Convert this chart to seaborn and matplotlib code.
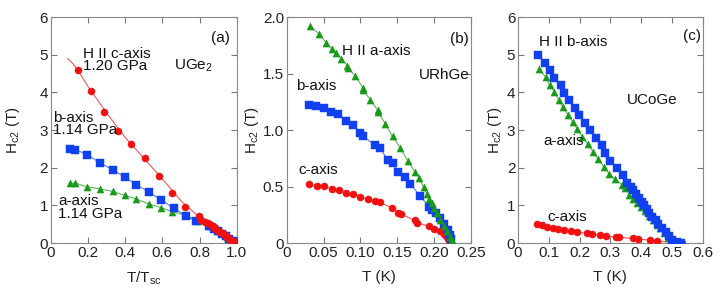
import numpy as np
import pandas as pd
import matplotlib
matplotlib.use("Agg")
import matplotlib.pyplot as plt
import seaborn as sns

# ---- (a) UGe2, H vs T/Tsc ----
a_c_x = [0.145, 0.213, 0.287, 0.36, 0.432, 0.504, 0.579, 0.651, 0.722, 0.796, 0.806,
         0.83, 0.845, 0.86, 0.87, 0.88, 0.89, 0.90, 0.91, 0.92, 0.93, 0.94, 0.95,
         0.96, 0.97, 0.98, 0.99, 1.0]
a_c_y = [4.6, 4.03, 3.49, 2.97, 2.64, 2.27, 1.79, 1.34, 0.97, 0.71, 0.62,
         0.55, 0.52, 0.47, 0.44, 0.40, 0.37, 0.33, 0.30, 0.26, 0.23, 0.19, 0.16,
         0.12, 0.09, 0.06, 0.03, 0.0]
a_fit_x = [0.09, 0.12, 0.15, 0.2, 0.3, 0.4, 0.5, 0.6, 0.7, 0.8, 0.9, 1.0]
a_fit_y = [4.9, 4.75, 4.55, 4.15, 3.45, 2.8, 2.25, 1.7, 1.12, 0.68, 0.33, 0.0]
a_b_x = [0.105, 0.131, 0.195, 0.263, 0.332, 0.396, 0.46, 0.527, 0.593, 0.661, 0.726,
         0.783, 0.85, 0.88, 0.9, 0.92, 0.94, 0.96, 0.98, 1.0]
a_b_y = [2.5, 2.48, 2.35, 2.13, 1.95, 1.75, 1.55, 1.35, 1.15, 0.92, 0.73,
         0.58, 0.45, 0.38, 0.32, 0.25, 0.19, 0.12, 0.06, 0.02]
a_a_x = [0.104, 0.131, 0.195, 0.263, 0.332, 0.396, 0.46, 0.525, 0.593, 0.654, 0.726,
         0.79, 0.85, 0.9, 0.95, 1.0]
a_a_y = [1.59, 1.59, 1.49, 1.44, 1.37, 1.27, 1.17, 1.04, 0.94, 0.83, 0.74,
         0.58, 0.45, 0.31, 0.15, 0.02]

# ---- (b) URhGe, H vs T (K) ----
b_a_x = [0.0317, 0.0435, 0.0539, 0.062, 0.067, 0.0742, 0.0824, 0.0833, 0.0932, 0.1032,
         0.1037, 0.1136, 0.1236, 0.124, 0.1336, 0.1435, 0.154, 0.1644, 0.1739, 0.1793,
         0.1856, 0.190, 0.1933, 0.1965, 0.2001, 0.2038, 0.2083, 0.2128, 0.2174, 0.2219,
         0.2242]
b_a_y = [1.919, 1.854, 1.769, 1.714, 1.681, 1.631, 1.57, 1.55, 1.479, 1.374,
         1.356, 1.265, 1.174, 1.157, 1.057, 0.943, 0.843, 0.726, 0.629, 0.579,
         0.494, 0.433, 0.394, 0.353, 0.312, 0.265, 0.207, 0.154, 0.104, 0.054,
         0.025]
b_b_x = [0.0299, 0.0402, 0.0507, 0.0607, 0.0702, 0.081, 0.0901, 0.0996, 0.1041, 0.1204,
         0.1263, 0.1372, 0.1435, 0.1503, 0.1607, 0.1675, 0.1807, 0.1933, 0.1974, 0.2029,
         0.2074, 0.2128, 0.2183, 0.2219, 0.2228]
b_b_y = [1.221, 1.215, 1.194, 1.163, 1.142, 1.080, 1.048, 0.978, 0.943, 0.864,
         0.843, 0.734, 0.705, 0.632, 0.585, 0.526, 0.418, 0.321, 0.295, 0.265,
         0.221, 0.171, 0.119, 0.075, 0.037]
b_c_x = [0.0303, 0.0412, 0.0511, 0.0616, 0.0711, 0.081, 0.0905, 0.0996, 0.11, 0.12,
         0.1259, 0.1422, 0.1512, 0.1549, 0.1734, 0.1771, 0.1929, 0.2001, 0.2074, 0.2128,
         0.2165, 0.2192, 0.2214]
b_c_y = [0.523, 0.506, 0.503, 0.477, 0.468, 0.441, 0.433, 0.406, 0.389, 0.368,
         0.362, 0.312, 0.268, 0.257, 0.201, 0.180, 0.148, 0.128, 0.107, 0.084,
         0.06, 0.037, 0.013]

# ---- (c) UCoGe, H vs T (K) ----
c_b_x = [0.065, 0.087, 0.104, 0.118, 0.138, 0.149, 0.165, 0.185, 0.199, 0.217, 0.235,
         0.252, 0.272, 0.283, 0.299, 0.323, 0.342, 0.355, 0.366, 0.375, 0.383, 0.393,
         0.402, 0.41, 0.42, 0.427, 0.434, 0.447, 0.455, 0.468, 0.481, 0.49, 0.501,
         0.516, 0.53]
c_b_y = [5.0, 4.79, 4.59, 4.39, 4.19, 3.99, 3.80, 3.59, 3.39, 3.19, 3.0,
         2.80, 2.59, 2.40, 2.18, 1.99, 1.80, 1.59, 1.50, 1.40, 1.30, 1.19,
         1.10, 1.0, 0.91, 0.80, 0.69, 0.60, 0.50, 0.40, 0.29, 0.19, 0.09,
         0.04, 0.0]
c_a_x = [0.068, 0.09, 0.103, 0.118, 0.132, 0.146, 0.162, 0.177, 0.193, 0.209, 0.227,
         0.244, 0.26, 0.278, 0.296, 0.315, 0.337, 0.348, 0.362, 0.373, 0.386, 0.40,
         0.413, 0.427, 0.44, 0.45, 0.461, 0.474, 0.487, 0.50]
c_a_y = [4.61, 4.41, 4.19, 4.01, 3.80, 3.60, 3.41, 3.22, 3.02, 2.82, 2.62,
         2.42, 2.23, 2.03, 1.84, 1.70, 1.55, 1.45, 1.28, 1.17, 1.06, 0.95,
         0.84, 0.72, 0.62, 0.49, 0.40, 0.27, 0.14, 0.03]
c_c_x = [0.0606, 0.078, 0.0953, 0.1148, 0.129, 0.1484, 0.171, 0.1928, 0.224, 0.239,
         0.2675, 0.285, 0.318, 0.329, 0.372, 0.389, 0.428, 0.451, 0.505, 0.532]
c_c_y = [0.50, 0.467, 0.43, 0.398, 0.38, 0.345, 0.318, 0.292, 0.255, 0.239,
         0.202, 0.186, 0.159, 0.15, 0.122, 0.106, 0.08, 0.053, 0.027, 0.008]

RED = "#f01010"
BLUE = "#1040f0"
GREEN = "#189a18"

sns.set_theme(style="ticks")
plt.rcParams["font.family"] = ["Liberation Sans", "DejaVu Sans"]
plt.rcParams["mathtext.fontset"] = "custom"
plt.rcParams["mathtext.rm"] = "Liberation Sans"
plt.rcParams["mathtext.it"] = "Liberation Sans"

fig = plt.figure(figsize=(7.2, 2.89), dpi=100)
bottom, height = 0.159, 0.782
ax_a = fig.add_axes([0.0708, bottom, 0.258, height])
ax_b = fig.add_axes([0.3982, bottom, 0.256, height])
ax_c = fig.add_axes([0.7195, bottom, 0.2565, height])

FS = 11
ms = 4.5


def series(ax, x, y, color, marker, line=True, size=ms):
    if line:
        sns.lineplot(x=x, y=y, ax=ax, color=color, lw=0.8, sort=False,
                     estimator=None, alpha=0.7)
    sns.scatterplot(x=x, y=y, ax=ax, color=color, marker=marker, s=size ** 2 * 1.3,
                    edgecolor=color, linewidth=0.3, zorder=3)


def style(ax, xlim, ylim, xticks, xlabels, yticks, ylabels, xlabel, ypad):
    ax.set_xlim(*xlim)
    ax.set_ylim(*ylim)
    ax.set_xticks(xticks)
    ax.set_xticklabels(xlabels)
    ax.set_yticks(yticks)
    ax.set_yticklabels(ylabels)
    ax.tick_params(direction="in", top=True, right=True, length=4, width=0.8,
                   color="#777777", labelsize=FS, labelcolor="#222222", pad=2)
    for s in ax.spines.values():
        s.set_visible(True)
        s.set_color("#888888")
        s.set_linewidth(0.8)
    ax.set_xlabel(xlabel, fontsize=FS, color="#222222", labelpad=7)
    ax.set_ylabel("H$_{c2}$ (T)", fontsize=FS, color="#222222", labelpad=ypad)


def note(ax, x, y, s):
    ax.text(x, y, s, fontsize=FS, va="center", linespacing=0.85, color="#111111")


# (a)
sns.lineplot(x=a_fit_x, y=a_fit_y, ax=ax_a, color=RED, lw=0.8, sort=False,
             estimator=None, alpha=0.7)
series(ax_a, a_a_x, a_a_y, GREEN, "^")
series(ax_a, a_b_x, a_b_y, BLUE, "s")
series(ax_a, a_c_x, a_c_y, RED, "o", line=False)
style(ax_a, (0, 1.0), (0, 6), [0, 0.2, 0.4, 0.6, 0.8, 1.0],
      ["0", "0.2", "0.4", "0.6", "0.8", "1.0"], range(7), [str(i) for i in range(7)],
      "T/T$_{sc}$", 13)
note(ax_a, 0.86, 5.44, "(a)")
note(ax_a, 0.172, 4.855, "H II c-axis\n1.20 GPa")
note(ax_a, 0.66, 4.7, "UGe$_2$")
note(ax_a, 0.012, 3.165, "b-axis\n1.14 GPa")
note(ax_a, 0.04, 0.945, "a-axis\n1.14 GPa")

# (b)
series(ax_b, b_c_x, b_c_y, RED, "o")
series(ax_b, b_b_x, b_b_y, BLUE, "s")
series(ax_b, b_a_x, b_a_y, GREEN, "^")
style(ax_b, (0, 0.25), (0, 2.0), [0, 0.05, 0.10, 0.15, 0.20, 0.25],
      ["0", "0.05", "0.10", "0.15", "0.20", "0.25"], [0, 0.5, 1.0, 1.5, 2.0],
      ["0", "0.5", "1.0", "1.5", "2.0"], "T (K)", 1)
note(ax_b, 0.222, 1.81, "(b)")
note(ax_b, 0.075, 1.70, "H II a-axis")
note(ax_b, 0.179, 1.485, "URhGe")
note(ax_b, 0.012, 1.39, "b-axis")
note(ax_b, 0.016, 0.65, "c-axis")

# (c)
series(ax_c, c_c_x, c_c_y, RED, "o")
series(ax_c, c_a_x, c_a_y, GREEN, "^")
series(ax_c, c_b_x, c_b_y, BLUE, "s")
style(ax_c, (0, 0.6), (0, 6), [0, 0.1, 0.2, 0.3, 0.4, 0.5, 0.6],
      ["0", "0.1", "0.2", "0.3", "0.4", "0.5", "0.6"], range(7),
      [str(i) for i in range(7)], "T (K)", 2)
note(ax_c, 0.535, 5.49, "(c)")
note(ax_c, 0.067, 5.34, "H II b-axis")
note(ax_c, 0.353, 3.80, "UCoGe")
note(ax_c, 0.082, 2.72, "a-axis")
note(ax_c, 0.095, 0.69, "c-axis")

fig.savefig("out.png", dpi=100)
